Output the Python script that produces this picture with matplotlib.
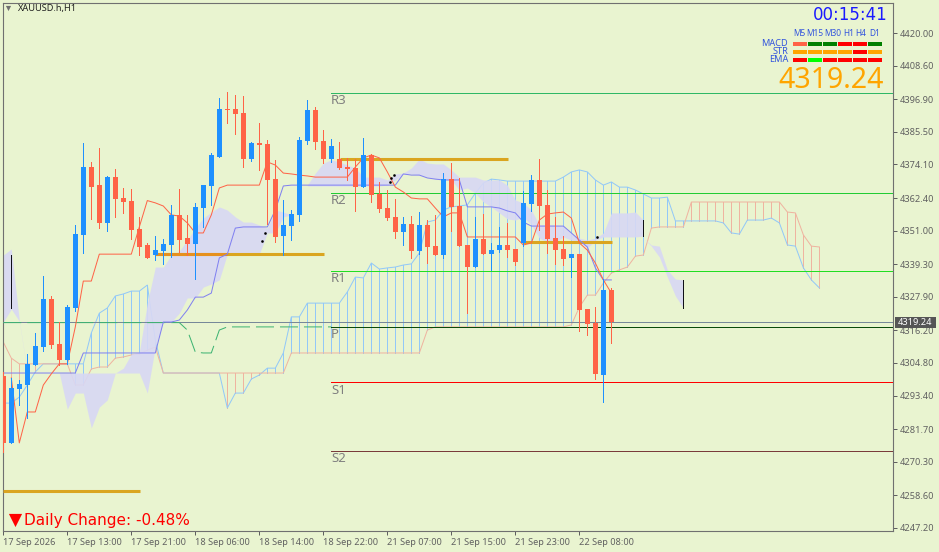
import matplotlib
matplotlib.use("Agg")
import matplotlib.pyplot as plt
from matplotlib.patches import Rectangle

BG = "#e9f4d0"
UP = "#1e90ff"
DOWN = "#ff6347"

# candles, bar 0 = 17 Sep 2026
opens = [4300.3, 4276.9, 4295.7, 4297.1, 4304.1, 4310.4, 4327.1, 4311.4, 4305.8, 4324.0, 4349.5, 4373.2, 4366.9,
         4353.7, 4369.7, 4362.4, 4361.4, 4351.6, 4346.0, 4342.5, 4343.9, 4346.0, 4356.5, 4348.4, 4346.3, 4358.9,
         4366.6, 4376.7, 4393.5, 4393.5, 4392.1, 4376.0, 4381.6, 4381.2, 4369.0, 4349.1, 4352.6, 4356.5, 4382.3,
         4393.1, 4382.3, 4376.0, 4376.0, 4373.2, 4372.9, 4366.2, 4377.4, 4363.8, 4358.9, 4355.8, 4350.5, 4353.3,
         4343.9, 4353.0, 4345.6, 4342.5, 4369.0, 4359.6, 4346.0, 4338.3, 4348.1, 4342.8, 4344.2, 4346.0, 4344.6,
         4346.7, 4360.3, 4368.7, 4360.0, 4348.4, 4344.6, 4341.5, 4342.8, 4323.6, 4318.8, 4300.6, 4330.3]
highs = [4301.6, 4299.6, 4298.9, 4307.9, 4315.3, 4335.2, 4328.2, 4319.1, 4325.0, 4353.0, 4381.6, 4375.0, 4379.9,
         4370.1, 4372.5, 4365.9, 4365.5, 4355.8, 4346.7, 4349.1, 4348.1, 4360.0, 4365.5, 4356.5, 4360.7, 4366.9,
         4378.1, 4397.3, 4399.4, 4398.4, 4398.0, 4381.9, 4388.6, 4382.6, 4375.7, 4361.7, 4358.2, 4383.7, 4396.6,
         4394.2, 4386.1, 4383.0, 4381.9, 4376.4, 4376.0, 4383.3, 4377.8, 4368.0, 4365.2, 4362.1, 4355.8, 4356.1,
         4357.5, 4354.7, 4356.5, 4371.1, 4374.6, 4369.4, 4346.0, 4355.8, 4356.8, 4346.7, 4352.3, 4353.7, 4344.6,
         4364.8, 4370.4, 4376.0, 4365.2, 4355.8, 4349.1, 4342.8, 4342.8, 4323.6, 4324.3, 4334.1, 4331.0]
lows = [4273.7, 4276.9, 4290.1, 4285.6, 4304.1, 4309.0, 4310.0, 4304.1, 4304.5, 4322.9, 4343.2, 4355.1, 4351.9,
        4350.9, 4355.8, 4357.2, 4348.1, 4342.5, 4341.5, 4340.8, 4339.4, 4341.8, 4343.5, 4342.5, 4334.1, 4352.3,
        4360.0, 4376.7, 4388.6, 4384.7, 4373.2, 4375.3, 4372.2, 4353.3, 4347.0, 4342.5, 4347.7, 4354.4, 4381.2,
        4379.5, 4374.6, 4375.0, 4372.5, 4368.7, 4357.9, 4366.2, 4361.0, 4357.5, 4354.7, 4348.4, 4346.0, 4341.5,
        4342.8, 4339.7, 4342.5, 4341.5, 4350.9, 4345.6, 4322.2, 4338.3, 4342.8, 4337.3, 4343.5, 4341.8, 4339.0,
        4345.6, 4357.9, 4351.2, 4343.2, 4339.4, 4339.0, 4334.8, 4316.0, 4314.6, 4299.2, 4291.2, 4311.8]
closes = [4276.9, 4296.1, 4297.5, 4304.5, 4310.7, 4327.1, 4311.1, 4305.8, 4324.3, 4349.8, 4373.2, 4366.2, 4353.7,
          4369.7, 4362.1, 4361.0, 4351.2, 4345.3, 4341.5, 4344.2, 4346.3, 4356.5, 4347.7, 4346.3, 4359.3, 4366.9,
          4377.4, 4393.5, 4393.1, 4391.7, 4376.0, 4381.6, 4380.9, 4368.7, 4348.8, 4353.0, 4356.8, 4382.6, 4393.1,
          4381.9, 4376.0, 4380.5, 4372.9, 4372.5, 4366.2, 4377.4, 4363.4, 4358.6, 4355.4, 4350.5, 4353.3, 4343.9,
          4353.0, 4345.3, 4342.5, 4369.0, 4359.3, 4345.6, 4338.3, 4348.1, 4342.8, 4344.2, 4346.0, 4344.2, 4340.1,
          4360.7, 4368.7, 4359.6, 4348.1, 4344.2, 4341.1, 4342.8, 4323.3, 4318.4, 4301.0, 4330.3, 4319.24]

# ichimoku lines
tenkan = [4299.6, 4276.9, 4287.7, 4287.7, 4297.1, 4301.0, 4304.5, 4304.5, 4317.4, 4333.4, 4333.4] + [4342.8] * 5 + \
         [4352.3, 4361.5, 4360.7, 4359.6, 4356.5, 4356.1, 4353.7, 4350.2, 4350.2, 4356.5, 4365.9] + [4366.9] * 5 + \
         [4375.0, 4373.9, 4371.1, 4370.8, 4370.4, 4370.1] + [4369.7] * 5 + \
         [4373.2, 4376.4, 4377.4, 4376.4, 4371.5, 4366.2, 4364.5, 4362.4, 4362.1, 4362.1, 4358.9, 4355.8, 4357.2,
          4357.2] + [4348.8] * 7 + \
         [4346.0, 4346.7, 4354.7, 4356.8, 4357.2, 4357.5, 4355.4, 4346.7, 4344.2, 4339.7, 4333.8, 4329.2]
kijun = [4301.3] * 10 + [4308.3] * 10 + \
        [4319.1, 4319.1, 4319.8, 4323.3, 4327.8, 4327.8, 4329.2, 4341.5, 4342.8, 4351.9] + [4352.3] * 4 + \
        [4358.2, 4366.6] + [4366.9] * 14 + [4370.8, 4370.4, 4370.4, 4369.4, 4369.0] + [4368.7] * 3 + [4359.3] * 4 + \
        [4358.9, 4357.9, 4357.2, 4354.0] + [4352.6] * 5 + [4350.2, 4347.7, 4345.3, 4338.0, 4333.8, 4333.8]
chikou = [4318.9] * 23 + [4316.3, 4308.6, 4308.3, 4308.3, 4316.3] + [4317.4] * 14
senkou_a = [4312.1, 4306.5, 4304.5] + [4304.5] * 6 + \
           [4297.1, 4297.1, 4302.7, 4303.4, 4303.4, 4306.5, 4306.9, 4307.6, 4307.9, 4309.3, 4310.4] + \
           [4301.3] * 16 + [4308.3] * 17 + [4316.3] + [4317.4] * 17 + \
           [4318.1, 4324.3, 4328.5, 4328.5, 4332.7, 4336.2, 4337.3, 4338.3, 4342.1, 4342.5, 4351.9] + \
           [4352.3] * 4 + [4361.0] * 12 + [4357.5, 4357.2, 4349.5, 4345.6, 4345.3]
senkou_b = [4290.8, 4290.8, 4292.9, 4297.1, 4301.7, 4304.5, 4304.5, 4304.5, 4304.5, 4304.5, 4304.5, 4315.3, 4322.2,
            4324.0, 4328.2, 4328.9, 4329.9, 4329.9, 4332.0, 4312.8] + [4301.3] * 8 + \
           [4289.1, 4294.3, 4294.3, 4299.2, 4300.6, 4303.0, 4303.0, 4308.3, 4320.9, 4320.9] + [4325.7] * 5 + \
           [4329.6, 4334.8, 4334.5, 4339.7, 4337.6, 4338.0, 4338.3, 4339.0, 4339.4, 4343.2, 4354.0, 4354.7, 4358.2,
            4359.3, 4359.6, 4360.0, 4364.1, 4367.6, 4369.0, 4368.7] + [4368.3] * 7 + \
           [4369.7, 4371.5, 4372.2, 4371.5, 4368.7, 4366.9, 4368.0, 4366.2, 4366.2, 4365.2, 4363.8, 4362.4, 4362.4,
            4362.7, 4354.4] + [4354.4] * 5 + \
           [4353.7, 4350.2, 4349.8, 4354.7, 4354.7, 4354.7, 4355.4, 4353.7, 4346.0, 4345.6, 4338.0, 4333.8, 4331.0]

# second cloud, in four pieces
cloud1_x = [0, 1, 2, 3]
cloud1_top = [4342.5, 4344.6, 4319.8, 4301.7]
cloud1_bot = [4319.1, 4323.6, 4319.4, 4301.3]
cloud2_x = list(range(7, 37))
cloud2_top = [4301.3, 4301.3, 4301.3, 4301.3, 4301.3, 4301.3, 4301.3, 4301.3, 4303.0, 4307.9, 4308.6, 4325.7,
              4338.3, 4338.3, 4342.5, 4343.9, 4347.7, 4351.9, 4355.4, 4357.5, 4359.3, 4358.2, 4355.8, 4354.0,
              4354.0, 4353.0, 4351.9, 4358.2, 4357.5, 4356.5]
cloud2_bot = [4301.3, 4288.7, 4294.3, 4294.3, 4282.1, 4289.4, 4291.9, 4301.3, 4301.3, 4301.3, 4301.3, 4294.3,
              4310.4, 4319.1, 4319.1, 4322.2, 4327.5, 4327.5, 4331.3, 4332.4, 4333.8, 4342.8, 4342.8, 4342.8,
              4342.8, 4342.8, 4350.2, 4350.2, 4355.8, 4356.5]
cloud3_x = list(range(38, 81))
cloud3_top = [4366.9, 4371.1, 4374.6, 4375.7, 4375.0, 4373.9, 4372.9, 4369.7, 4369.7, 4369.7, 4368.7, 4370.8,
              4371.1, 4372.9, 4376.0, 4374.6, 4374.3, 4374.3, 4372.2, 4369.7, 4369.7, 4369.7, 4368.7, 4368.7,
              4368.7, 4366.9, 4361.7, 4360.7, 4358.2, 4353.0, 4353.0, 4353.0, 4352.6, 4350.2, 4348.4, 4347.7,
              4348.4, 4350.2, 4357.2, 4357.2, 4357.2, 4357.5, 4354.7]
cloud3_bot = [4366.6, 4366.6, 4366.6, 4366.6, 4366.6, 4366.6, 4366.6, 4366.6, 4366.6, 4366.6, 4366.9, 4368.7,
              4370.8, 4370.8, 4370.4, 4369.7, 4369.0, 4368.7, 4368.7, 4365.2, 4365.9, 4364.1, 4361.0, 4359.3,
              4357.2, 4355.1, 4354.7, 4355.8, 4353.0, 4348.4, 4347.0, 4347.0, 4348.8, 4347.7, 4347.0, 4344.9,
              4347.7, 4348.8, 4348.8, 4348.8, 4348.8, 4348.8, 4349.1]
cloud4_x = [80, 81, 82, 83, 84, 85]
cloud4_top = [4348.4, 4346.0, 4345.6, 4337.3, 4334.1, 4333.8]
cloud4_bot = [4348.4, 4345.6, 4341.8, 4334.8, 4328.2, 4324.0]

# black cloud end markers
end_x = [0, 1, 80, 85]
end_top = [4342.5, 4342.5, 4354.7, 4333.8]
end_bot = [4319.1, 4324.0, 4349.1, 4324.0]

# pivots
pivot_names = ["R3", "R2", "R1", "P", "S1", "S2"]
pivot_prices = [4399.2, 4364.3, 4336.9, 4317.4, 4298.2, 4274.1]
pivot_colors = ["#2fb866", "#22cc33", "#22dd22", "#0a4a0a", "#ff0000", "#7a3b3b"]

# gold levels: start bar, end bar, price
gold_start = [42.1, 19, 0, 65]
gold_end = [63.1, 40.1, 17.1, 76.1]
gold_price = [4376.0, 4342.8, 4260.1, 4347.0]

dots_x = [32.7, 32.3, 48.4, 48.8, 48.3, 74.2]
dots_y = [4350.2, 4347.4, 4369.4, 4370.4, 4368.0, 4348.8]

bid = 4319.24
y_ticks = [4420.00, 4408.60, 4396.90, 4385.50, 4374.10, 4362.40, 4351.00, 4339.30,
           4327.90, 4316.20, 4304.80, 4293.40, 4281.70, 4270.30, 4258.60, 4247.20]
x_ticks = [0, 8, 16, 24, 32, 40, 48, 56, 64, 72]
x_labels = ["17 Sep 2026", "17 Sep 13:00", "17 Sep 21:00", "18 Sep 06:00", "18 Sep 14:00",
            "18 Sep 22:00", "21 Sep 07:00", "21 Sep 15:00", "21 Sep 23:00", "22 Sep 08:00"]

# dashboard
tf_names = ["M5", "M15", "M30", "H1", "H4", "D1"]
tf_pos = [799.5, 815, 833, 848.7, 861, 875]
macd_cells = ["#ff6347", "#008000", "#008000", "#ff0000", "#ff0000", "#008000"]
str_cells = ["#ffa500", "#ffa500", "#ffa500", "#ffa500", "#ff0000", "#ffa500"]
ema_cells = ["#ff0000", "#00ff00", "#ff0000", "#ff0000", "#ff0000", "#ff0000"]

plt.rcParams["font.family"] = "Noto Sans"
W, H = 939, 552
fig = plt.figure(figsize=(W / 100, H / 100), dpi=100, facecolor=BG)
ax = fig.add_axes([2.5 / W, 1 - 531 / H, (893 - 2.5) / W, (531 - 2.5) / H], facecolor=BG)
ax.set_xlim(-0.1, 111.2)
ax.set_ylim(4246.15, 4430.65)

# hatch between the senkou lines, then the lines
for i in range(len(senkou_a)):
    col = "#92c8f8" if senkou_b[i] > senkou_a[i] else "#efb4a0"
    ax.vlines(i, senkou_a[i], senkou_b[i], color=col, lw=0.72, zorder=1, antialiased=False)
ax.plot(range(len(senkou_b)), senkou_b, color="#92c8f8", lw=0.72, zorder=1.5)
ax.plot(range(len(senkou_a)), senkou_a, color="#efb4a0", lw=0.72, zorder=1.5)

for cx, ct, cb in [(cloud1_x, cloud1_top, cloud1_bot), (cloud2_x, cloud2_top, cloud2_bot),
                   (cloud3_x, cloud3_top, cloud3_bot), (cloud4_x, cloud4_top, cloud4_bot)]:
    ax.fill_between(cx, cb, ct, color="#d8d8f4", alpha=0.9, lw=0, zorder=2)
ax.vlines(end_x, end_bot, end_top, color="#101018", lw=0.72, zorder=2.5, antialiased=False)

ax.axhline(bid, color="#778899", lw=0.72, zorder=3, antialiased=False)
ax.plot(range(len(chikou)), chikou, color="#3cb371", lw=0.72, ls=(0, (18, 6)), zorder=3.1)

for name, price, col in zip(pivot_names, pivot_prices, pivot_colors):
    ax.plot([41, 111.2], [price, price], color=col, lw=0.72, zorder=3.2, antialiased=False)

ax.hlines(gold_price, gold_start, gold_end, color="#daa520", lw=2.2, zorder=3.3)
ax.hlines(gold_price[1], gold_start[1], 28, color="#e6911e", lw=2.2, zorder=3.35)

ax.plot(range(len(kijun)), kijun, color="#8080f0", lw=0.72, zorder=3.5)
ax.plot(range(1, len(tenkan) + 1), tenkan, color="#ff6347", lw=0.72, zorder=3.6)
ax.plot(dots_x, dots_y, ls="none", marker="s", ms=0.8, color="black", zorder=3.7)

# candles
for i in range(len(opens)):
    col = UP if closes[i] >= opens[i] else DOWN
    ax.vlines(i, lows[i], highs[i], color=col, lw=0.72, zorder=4, antialiased=False)
    ax.bar(i, abs(closes[i] - opens[i]), bottom=min(opens[i], closes[i]), width=0.65, color=col, lw=0, zorder=4.1)

ax.yaxis.tick_right()
ax.set_yticks(y_ticks)
ax.set_yticklabels(["%.2f" % v for v in y_ticks])
ax.set_xticks(x_ticks)
ax.set_xticklabels(x_labels)
for lab in ax.get_xticklabels():
    lab.set_ha("left")
ax.tick_params(axis="y", length=3, width=0.72, color="#606060", labelcolor="#606060", labelsize=6.6, pad=2)
ax.tick_params(axis="x", length=3, width=0.72, color="#606060", labelcolor="#606060", labelsize=6.6, pad=2)
for s in ax.spines.values():
    s.set_color("#707070")
    s.set_linewidth(0.8)

# overlay in pixels for the labels on top of the chart
ov = fig.add_axes([0, 0, 1, 1], facecolor="none")
ov.set_xlim(0, W)
ov.set_ylim(H, 0)
ov.axis("off")

ov.scatter([8], [8], marker="v", s=14, color="#707070", lw=0)
ov.text(18, 8, "XAUUSD.h,H1", fontsize=6.6, color="#202020", va="center")

pivot_label_y = [100, 200, 279, 335, 390, 459]
for name, y in zip(pivot_names, pivot_label_y):
    ov.text(331, y, name, fontsize=9.5, color="#808080", va="center")

ov.text(888, 15, "00:15:41", fontsize=12, color="#1a1aff", ha="right", va="center", family="DejaVu Sans")
for name, x in zip(tf_names, tf_pos):
    ov.text(x, 33, name, fontsize=6, color="#3355dd", ha="center", va="center")
for row, (name, cells) in enumerate(zip(["MACD", "STR", "EMA"], [macd_cells, str_cells, ema_cells])):
    y = 43.7 + 8 * row
    ov.text(788, y - 0.5, name, fontsize=6.6, color="#3355dd", ha="right", va="center")
    for i, c in enumerate(cells):
        ov.add_patch(Rectangle((793.3 + i * 15, y - 2), 13.5, 4, color=c, lw=0))
ov.text(884, 80, "4319.24", fontsize=20.5, color="#ffa500", ha="right", va="center")

ov.add_patch(Rectangle((895, 317), 41, 11, color="#555555", lw=0, zorder=5))
ov.text(915.5, 322.5, "4319.24", fontsize=6.6, color="white", ha="center", va="center", zorder=6)

ov.scatter([15], [520], marker="v", s=90, color="#ff0000", lw=0)
ov.text(24, 520, "Daily Change: -0.48%", fontsize=11, color="#ff0000", va="center", family="DejaVu Sans")

fig.savefig("out.png", dpi=100, facecolor=BG)
